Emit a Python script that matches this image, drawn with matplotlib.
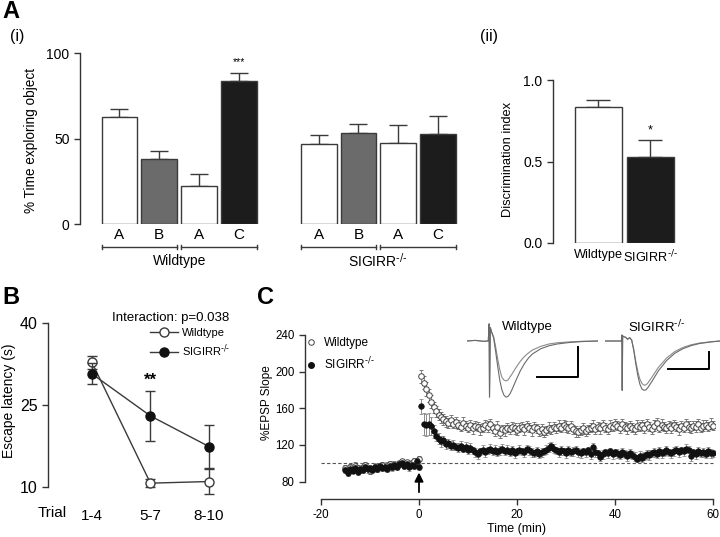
import numpy as np
import matplotlib
matplotlib.use('Agg')
import matplotlib.pyplot as plt
from matplotlib.lines import Line2D

plt.rcParams['font.family'] = ['Liberation Sans', 'DejaVu Sans']
plt.rcParams['mathtext.default'] = 'regular'
plt.rcParams['axes.unicode_minus'] = False

W, H = 720, 537
KO = r'SIGIRR$^{\text{-/-}}$'

# ---- panel A(i): object exploration ----
obj_pos = [0, 1, 2, 3, 5, 6, 7, 8]
obj_labels = ['A', 'B', 'A', 'C', 'A', 'B', 'A', 'C']
obj_means = [62.4, 37.8, 22.2, 83.6, 46.6, 53.4, 47.4, 52.8]
obj_sem = [4.8, 4.9, 7.0, 4.5, 5.3, 5.1, 10.3, 10.2]
obj_colors = ['white', '#6b6b6b', 'white', '#1c1c1c', 'white', '#6b6b6b', 'white', '#1c1c1c']
group_names = ['Wildtype', KO]

# ---- panel A(ii): discrimination index ----
di_labels = ['Wildtype', KO]
di_means = [0.834, 0.528]
di_sem = [0.043, 0.102]

# ---- panel B: water maze ----
trial_labels = ['1-4', '5-7', '8-10']
wt_latency = [32.8, 10.7, 11.0]
wt_latency_err = [1.2, 0.7, 2.3]
ko_latency = [30.7, 23.0, 17.4]
ko_latency_err = [1.9, 4.5, 3.9]

# ---- panel C: LTP time course ----
time_min = np.arange(-15, 60.01, 0.5)
wt_base = [95, 93, 96, 94, 97, 95, 93, 96, 98, 95,
           92, 94, 96, 95, 97, 98, 96, 97, 99, 96,
           98, 97, 100, 102, 99, 101, 98, 100, 103, 101,
           105]
wt_post = [195, 188, 181, 174, 167, 161, 157, 153, 150, 148,
           146, 144, 147, 143, 145, 142, 140, 144, 141, 139,
           142, 138, 141, 140, 137, 139, 142, 140, 143, 138,
           135, 140, 133, 137, 136, 139, 137, 140, 138, 136,
           139, 140, 137, 141, 139, 136, 140, 138, 135, 137,
           134, 136, 139, 137, 140, 138, 141, 139, 142, 140,
           138, 141, 137, 135, 134, 136, 138, 135, 137, 139,
           141, 137, 140, 138, 142, 139, 137, 141, 140, 143,
           141, 139, 143, 140, 138, 141, 139, 137, 141, 140,
           142, 139, 143, 140, 137, 141, 144, 139, 142, 140,
           138, 141, 139, 142, 140, 137, 141, 139, 143, 140,
           138, 141, 140, 143, 139, 141, 142, 140, 143, 141]
ko_base = [93, 89, 94, 92, 95, 91, 94, 93, 96, 94,
           95, 93, 96, 94, 97, 95, 96, 94, 97, 96,
           98, 96, 99, 100, 97, 99, 96, 98, 97, 102,
           96]
ko_post = [162, 143, 142, 143, 141, 135, 130, 127, 124, 125,
           121, 122, 119, 120, 118, 117, 119, 116, 118, 115,
           117, 114, 112, 110, 113, 115, 112, 114, 116, 113,
           115, 112, 114, 116, 113, 115, 112, 114, 111, 113,
           115, 113, 112, 116, 114, 112, 111, 113, 110, 112,
           113, 115, 117, 119, 116, 114, 112, 114, 113, 111,
           114, 112, 113, 115, 112, 111, 113, 112, 114, 110,
           118, 112, 111, 107, 110, 112, 111, 113, 110, 112,
           111, 109, 112, 110, 108, 111, 109, 107, 105, 108,
           106, 108, 110, 109, 111, 112, 110, 113, 111, 112,
           114, 112, 111, 113, 115, 112, 114, 113, 116, 115,
           108, 112, 110, 113, 111, 112, 110, 113, 111, 111]
wt_base_err = [3, 4, 3, 3, 4, 3, 3, 4, 3, 3,
               4, 3, 3, 4, 3, 3, 3, 4, 3, 3,
               4, 3, 3, 3, 4, 3, 3, 4, 3, 3,
               3]
wt_post_err = [7, 7, 8, 7, 7, 6, 6, 6, 6, 6,
               6, 5, 6, 5, 6, 5, 5, 6, 5, 5,
               5, 6, 5, 5, 6, 5, 5, 6, 5, 5,
               5, 6, 5, 5, 6, 5, 5, 5, 6, 5,
               5, 5, 6, 5, 5, 6, 5, 5, 5, 6,
               5, 5, 6, 5, 5, 5, 6, 5, 5, 6,
               5, 5, 5, 6, 5, 5, 6, 5, 5, 5,
               6, 5, 5, 6, 5, 5, 5, 6, 5, 5,
               5, 6, 5, 5, 6, 5, 5, 5, 6, 5,
               5, 6, 5, 5, 5, 6, 5, 5, 6, 5,
               5, 5, 6, 5, 5, 6, 5, 5, 5, 6,
               5, 5, 6, 5, 5, 6, 5, 5, 6, 5]
ko_base_err = [3, 3, 4, 3, 3, 4, 3, 3, 3, 4,
               3, 3, 4, 3, 3, 3, 4, 3, 3, 4,
               3, 3, 3, 4, 3, 3, 4, 3, 3, 4,
               3]
ko_post_err = [8, 12, 12, 12, 10, 7, 6, 6, 6, 5,
               5, 5, 5, 5, 4, 5, 5, 4, 5, 5,
               5, 4, 5, 5, 4, 5, 5, 4, 5, 4,
               5, 4, 5, 5, 4, 5, 4, 5, 5, 4,
               5, 4, 5, 4, 5, 5, 4, 5, 4, 5,
               4, 5, 5, 4, 5, 4, 5, 5, 4, 5,
               5, 4, 5, 4, 5, 5, 4, 5, 4, 5,
               4, 5, 4, 5, 5, 4, 5, 4, 5, 4,
               5, 4, 5, 4, 5, 5, 4, 5, 4, 5,
               5, 4, 5, 5, 4, 5, 4, 5, 5, 4,
               5, 4, 5, 5, 4, 5, 4, 5, 5, 4,
               5, 4, 5, 5, 4, 5, 4, 5, 5, 4]

# example fEPSP traces (ms, mV)
wt_trace_t = [0, 2, 4, 5.2, 5.4, 5.5, 5.7, 6.0, 6.5, 7.0, 7.5, 8.0, 8.5, 9.0, 9.5,
              10.0, 10.5, 11.0, 12.0, 13.0, 14.0, 15.0, 16.0, 18.0, 20.0, 22.0, 25.0, 28.0, 32.0]
wt_trace_pre = [0, 0.02, -0.01, 0, 0.57, -1.87, 0.45, 0.3, 0.15, -0.2, -0.6, -0.95, -1.2, -1.3, -1.33,
                -1.3, -1.2, -1.1, -0.88, -0.68, -0.52, -0.4, -0.3, -0.18, -0.1, -0.06, -0.03, -0.01, 0]
wt_trace_post = [0, 0.02, -0.01, 0, 0.57, -1.87, 0.45, 0.3, 0.1, -0.35, -0.85, -1.3, -1.62, -1.8, -1.87,
                 -1.85, -1.76, -1.62, -1.3, -1.0, -0.76, -0.57, -0.43, -0.26, -0.16, -0.1, -0.05, -0.02, 0]
ko_trace_t = [0, 2, 4.0, 4.1, 4.2, 4.3, 4.6, 5.0, 5.5, 6.0, 6.5, 7.0, 7.5, 8.0, 8.5, 9.0, 9.5,
              10.0, 10.5, 11.5, 13.0, 15.0, 17.0, 19.0, 21.0, 23.0, 26.0, 28.0]
ko_trace_pre = [0, 0, 0, 0.35, -2.9, 0.3, 0.25, 0.22, 0.1, 0.2, 0.05, -0.5, -1.2, -1.8, -2.25, -2.5, -2.6,
                -2.58, -2.45, -2.1, -1.55, -1.0, -0.62, -0.38, -0.22, -0.12, -0.04, 0]
ko_trace_post = [0, 0, 0, 0.35, -2.9, 0.3, 0.25, 0.22, 0.1, 0.2, 0.05, -0.55, -1.35, -2.05, -2.55, -2.82, -2.9,
                 -2.87, -2.72, -2.35, -1.75, -1.15, -0.72, -0.45, -0.27, -0.15, -0.05, 0]


def px_box(left, top, right, bottom):
    return [left / W, 1 - bottom / H, (right - left) / W, (bottom - top) / H]


def ftext(x, y, s, **kw):
    fig.text(x / W, 1 - y / H, s, ha='center', va='center', **kw)


def clean(ax, bottom=False):
    for s in ['top', 'right']:
        ax.spines[s].set_visible(False)
    if not bottom:
        ax.spines['bottom'].set_visible(False)
    for s in ['left', 'bottom']:
        ax.spines[s].set_color('#333333')
        ax.spines[s].set_linewidth(1)
    ax.tick_params(color='#333333', width=1, length=4)


fig = plt.figure(figsize=(7.2, 5.37), dpi=100)

# ================= A(i) =================
ax = fig.add_axes(px_box(80, 53, 462, 224))
ax.bar(obj_pos, obj_means, width=0.9, color=obj_colors, edgecolor='#3a3a3a', linewidth=1, zorder=2)
ax.errorbar(obj_pos, obj_means, yerr=[np.zeros(len(obj_sem)), obj_sem], fmt='none',
            ecolor='#3a3a3a', elinewidth=1, capsize=6.5, capthick=1, zorder=1)
ax.set_ylim(0, 100)
ax.set_xlim(-0.99, 8.6)
ax.set_yticks([0, 50, 100])
ax.set_xticks(obj_pos)
ax.set_xticklabels(obj_labels, fontsize=11)
clean(ax)
ax.tick_params(axis='x', length=0, pad=3)
ax.tick_params(axis='y', labelsize=10)
ax.set_ylabel('% Time exploring object', fontsize=9.8)
ax.yaxis.set_label_coords(-0.11, 0.49)
for g, start in enumerate([0, 5]):
    for a, b in [(start - 0.45, start + 1.45), (start + 1.55, start + 3.45)]:
        ax.plot([a, b], [-13.5, -13.5], color='#3a3a3a', lw=1, clip_on=False)
        for e in (a, b):
            ax.plot([e, e], [-12, -14.5], color='#3a3a3a', lw=1, clip_on=False)
    ax.text(start + 1.5, -21.5, group_names[g], ha='center', va='center', fontsize=10)
ax.text(obj_pos[3], 94.5, '***', ha='center', va='center', fontsize=7.5)

# ================= A(ii) =================
ax = fig.add_axes(px_box(553, 80, 690, 243))
ax.bar([0, 1], di_means, width=0.9, color=['white', '#1c1c1c'], edgecolor='#3a3a3a', linewidth=1, zorder=2)
ax.errorbar([0, 1], di_means, yerr=[[0, 0], di_sem], fmt='none', ecolor='#3a3a3a',
            elinewidth=1, capsize=8.5, capthick=1, zorder=1)
ax.set_ylim(0, 1)
ax.set_xlim(-0.875, 1.76)
ax.set_yticks([0, 0.5, 1.0])
ax.set_yticklabels(['0.0', '0.5', '1.0'])
ax.set_xticks([0, 1])
ax.set_xticklabels(di_labels, fontsize=9.2)
clean(ax)
ax.tick_params(axis='x', length=0, pad=4)
ax.tick_params(axis='y', labelsize=10)
ax.set_ylabel('Discrimination index', fontsize=9.3)
ax.yaxis.set_label_coords(-0.285, 0.51)
ax.text(1, 0.693, '*', ha='center', va='center', fontsize=9)

# ================= B =================
ax = fig.add_axes(px_box(48, 317.5, 240, 503.4))
x = np.arange(len(trial_labels))
ax.errorbar(x, wt_latency, yerr=wt_latency_err, color='#3a3a3a', lw=1, marker='o', ms=6.5,
            mfc='white', mec='#3a3a3a', mew=1, capsize=3.5, elinewidth=1, zorder=3)
ax.errorbar(x, ko_latency, yerr=ko_latency_err, color='#3a3a3a', lw=1, marker='o', ms=6.5,
            mfc='#111111', mec='#111111', mew=1, capsize=3.5, elinewidth=1, zorder=4)
ax.set_ylim(7, 41)
ax.set_xlim(-0.75, 2.53)
ax.spines['left'].set_bounds(10, 40)
ax.set_yticks([10, 25, 40])
ax.set_xticks(x)
ax.set_xticklabels(trial_labels, fontsize=11)
clean(ax)
ax.tick_params(axis='x', length=0, pad=4)
ax.tick_params(axis='y', labelsize=11.5)
ax.set_ylabel('Escape latency (s)', fontsize=10)
ax.yaxis.set_label_coords(-0.165, 0.55)
ax.text(-0.67, -0.05, 'Trial', transform=ax.get_xaxis_transform(), ha='center', va='center', fontsize=11)
ax.text(1, 29.6, '**', ha='center', va='center', fontsize=12, fontweight='bold')
ax.text(0.943, 0.995, 'Interaction: p=0.038', transform=ax.transAxes, ha='right', va='center', fontsize=9.5)
leg_handles = [Line2D([], [], color='#3a3a3a', lw=1, marker='o', ms=6.5, mfc='white', mec='#3a3a3a'),
               Line2D([], [], color='#3a3a3a', lw=1, marker='o', ms=6.5, mfc='#111111', mec='#111111')]
ax.legend(leg_handles, ['Wildtype', KO], loc='upper left', bbox_to_anchor=(0.531, 0.945),
          frameon=False, fontsize=8, borderpad=0, borderaxespad=0, handlelength=2.5,
          handletextpad=0.4, labelspacing=0.45)

# ================= C =================
ax = fig.add_axes(px_box(305, 318, 715, 499))
wt_vals = wt_base + wt_post
ko_vals = ko_base + ko_post
wt_err = wt_base_err + wt_post_err
ko_err = ko_base_err + ko_post_err
ax.errorbar(time_min, wt_vals, yerr=wt_err, fmt='o', ms=4, mfc='white', mec='#444444', mew=0.7,
            ecolor='#777777', elinewidth=0.6, capsize=1.6, capthick=0.6, zorder=2)
ax.errorbar(time_min, ko_vals, yerr=ko_err, fmt='o', ms=4, mfc='#111111', mec='#111111', mew=0.5,
            ecolor='#777777', elinewidth=0.6, capsize=1.6, capthick=0.6, zorder=3)
ax.hlines(100, -20, 60, colors='#555555', linestyles=(0, (3, 2)), lw=0.8, zorder=1)
ax.annotate('', xy=(0, 93), xytext=(0, 65.5),
            arrowprops=dict(arrowstyle='-|>', color='black', lw=1.3, mutation_scale=13))
ax.set_xlim(-23.26, 60.4)
ax.set_ylim(61.1, 258.5)
ax.spines['left'].set_bounds(80, 240)
ax.spines['bottom'].set_bounds(-20, 60)
ax.set_yticks([80, 120, 160, 200, 240])
ax.set_xticks([-20, 0, 20, 40, 60])
clean(ax, bottom=True)
ax.tick_params(labelsize=8.3)
ax.set_ylabel('%EPSP Slope', fontsize=8.5)
ax.yaxis.set_label_coords(-0.078, 0.53)
ax.set_xlabel('Time (min)', fontsize=9)
ax.xaxis.set_label_coords(0.517, -0.135)
c_handles = [Line2D([], [], ls='none', marker='o', ms=4, mfc='white', mec='#444444', mew=0.7),
             Line2D([], [], ls='none', marker='o', ms=4, mfc='#111111', mec='#111111')]
ax.legend(c_handles, ['Wildtype', KO], loc='upper left', bbox_to_anchor=(0.0, 0.895),
          frameon=False, fontsize=8.5, borderpad=0, borderaxespad=0, handlelength=1.0,
          handletextpad=0.6, labelspacing=0.55)

# inset traces
ins = fig.add_axes(px_box(467, 320, 598, 400))
ins.plot(wt_trace_t, wt_trace_pre, color='#8a8a8a', lw=0.8)
ins.plot(wt_trace_t, wt_trace_post, color='#6a6a6a', lw=0.8)
ins.plot([17.1, 27.1, 27.1], [-1.2, -1.2, -0.2], color='black', lw=1.4)
ins.set_xlim(0, 32)
ins.set_ylim(-1.967, 0.7)
ins.axis('off')

ins = fig.add_axes(px_box(605, 320, 720, 400))
ins.plot(ko_trace_t, ko_trace_pre, color='#8a8a8a', lw=0.8)
ins.plot(ko_trace_t, ko_trace_post, color='#6a6a6a', lw=0.8)
ins.plot([15.4, 25.4, 25.4], [-1.65, -1.65, -0.65], color='black', lw=1.4)
ins.set_xlim(0, 28)
ins.set_ylim(-3.47, 1.235)
ins.axis('off')

ftext(527, 327, 'Wildtype', fontsize=9.5)
ftext(657, 327, KO, fontsize=9.5)

# panel labels
ftext(11, 12, 'A', fontsize=17, fontweight='bold')
ftext(17, 37, '(i)', fontsize=11.5)
ftext(489, 37, '(ii)', fontsize=11.5)
ftext(11, 298, 'B', fontsize=17, fontweight='bold')
ftext(266, 298, 'C', fontsize=17, fontweight='bold')

fig.savefig('out.png', dpi=100)
